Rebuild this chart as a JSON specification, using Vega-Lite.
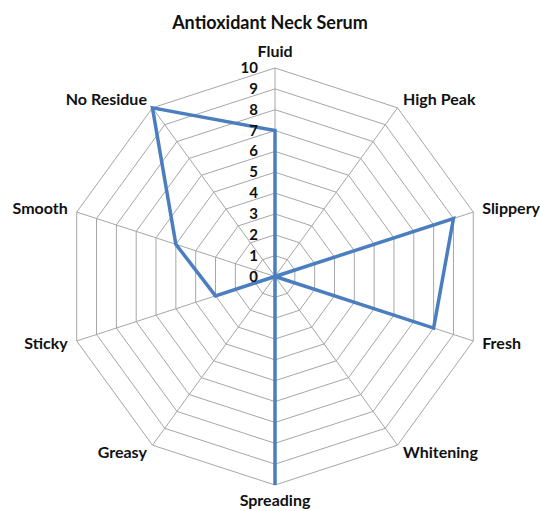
{
  "$schema": "https://vega.github.io/schema/vega-lite/v6.json",
  "width": 540,
  "height": 471,
  "autosize": "none",
  "padding": {"left": 0, "top": 40, "right": 0, "bottom": 0},
  "background": "white",
  "config": {"view": {"stroke": null}},
  "title": {
    "text": "Antioxidant Neck Serum",
    "font": "Lato",
    "fontSize": 18,
    "fontWeight": "bold",
    "color": "#111111",
    "anchor": "middle",
    "offset": 7
  },
  "datasets": {
    "attrs": [
      {"attr": "Fluid", "idx": 0, "value": 7},
      {"attr": "High Peak", "idx": 1, "value": 0},
      {"attr": "Slippery", "idx": 2, "value": 9},
      {"attr": "Fresh", "idx": 3, "value": 8},
      {"attr": "Whitening", "idx": 4, "value": 0},
      {"attr": "Spreading", "idx": 5, "value": 10},
      {"attr": "Greasy", "idx": 6, "value": 0},
      {"attr": "Sticky", "idx": 7, "value": 3},
      {"attr": "Smooth", "idx": 8, "value": 5},
      {"attr": "No Residue", "idx": 9, "value": 10}
    ],
    "ticks": [
      {"level": 0}, {"level": 1}, {"level": 2}, {"level": 3}, {"level": 4}, {"level": 5},
      {"level": 6}, {"level": 7}, {"level": 8}, {"level": 9}, {"level": 10}
    ]
  },
  "layer": [
    {
      "data": {"name": "attrs"},
      "transform": [
        {"calculate": "[1,2,3,4,5,6,7,8,9,10]", "as": "levels"},
        {"flatten": ["levels"], "as": ["level"]},
        {"calculate": "datum.idx * PI / 5", "as": "ang"},
        {"calculate": "datum.level * sin(datum.ang)", "as": "gx"},
        {"calculate": "datum.level * cos(datum.ang)", "as": "gy"}
      ],
      "mark": {"type": "line", "interpolate": "linear-closed", "stroke": "#a6a6a6", "strokeWidth": 1},
      "encoding": {
        "x": {"field": "gx", "type": "quantitative", "scale": {"domain": [-13.19, 12.71], "nice": false, "zero": false}, "axis": null},
        "y": {"field": "gy", "type": "quantitative", "scale": {"domain": [-11.247, 11.343], "nice": false, "zero": false}, "axis": null},
        "detail": {"field": "level", "type": "nominal"},
        "order": {"field": "idx", "type": "quantitative"}
      }
    },
    {
      "data": {"name": "attrs"},
      "transform": [
        {"calculate": "datum.idx * PI / 5", "as": "ang"},
        {"calculate": "0", "as": "ox"},
        {"calculate": "10 * sin(datum.ang)", "as": "sx"},
        {"calculate": "10 * cos(datum.ang)", "as": "sy"}
      ],
      "mark": {"type": "rule", "stroke": "#a6a6a6", "strokeWidth": 1},
      "encoding": {
        "x": {"field": "ox", "type": "quantitative"},
        "y": {"field": "ox", "type": "quantitative"},
        "x2": {"field": "sx"},
        "y2": {"field": "sy"}
      }
    },
    {
      "data": {"name": "attrs"},
      "transform": [
        {"calculate": "datum.idx * PI / 5", "as": "ang"},
        {"calculate": "datum.value * sin(datum.ang)", "as": "px"},
        {"calculate": "datum.value * cos(datum.ang)", "as": "py"}
      ],
      "mark": {"type": "line", "interpolate": "linear-closed", "stroke": "#4a7ebf", "strokeWidth": 3.5, "strokeJoin": "miter"},
      "encoding": {
        "x": {"field": "px", "type": "quantitative"},
        "y": {"field": "py", "type": "quantitative"},
        "order": {"field": "idx", "type": "quantitative"}
      }
    },
    {
      "data": {"name": "ticks"},
      "transform": [{"calculate": "0", "as": "ox"}],
      "mark": {"type": "text", "align": "right", "baseline": "middle", "dx": -17, "font": "Lato", "fontSize": 15, "fontWeight": "bold", "color": "#111111"},
      "encoding": {
        "x": {"field": "ox", "type": "quantitative"},
        "y": {"field": "level", "type": "quantitative"},
        "text": {"field": "level", "type": "quantitative"}
      }
    },
    {
      "data": {"name": "attrs"},
      "transform": [
        {"calculate": "datum.idx * PI / 5", "as": "ang"},
        {"filter": "sin(datum.ang) > 0.1"},
        {"calculate": "10.45 * sin(datum.ang)", "as": "lx"},
        {"calculate": "10.45 * cos(datum.ang)", "as": "ly"}
      ],
      "mark": {"type": "text", "align": "left", "baseline": "middle", "font": "Lato", "fontSize": 16, "fontWeight": "bold", "color": "#111111"},
      "encoding": {
        "x": {"field": "lx", "type": "quantitative"},
        "y": {"field": "ly", "type": "quantitative"},
        "text": {"field": "attr", "type": "nominal"}
      }
    },
    {
      "data": {"name": "attrs"},
      "transform": [
        {"calculate": "datum.idx * PI / 5", "as": "ang"},
        {"filter": "sin(datum.ang) < -0.1"},
        {"calculate": "10.45 * sin(datum.ang)", "as": "lx"},
        {"calculate": "10.45 * cos(datum.ang)", "as": "ly"}
      ],
      "mark": {"type": "text", "align": "right", "baseline": "middle", "font": "Lato", "fontSize": 16, "fontWeight": "bold", "color": "#111111"},
      "encoding": {
        "x": {"field": "lx", "type": "quantitative"},
        "y": {"field": "ly", "type": "quantitative"},
        "text": {"field": "attr", "type": "nominal"}
      }
    },
    {
      "data": {"name": "attrs"},
      "transform": [
        {"calculate": "datum.idx * PI / 5", "as": "ang"},
        {"filter": "abs(sin(datum.ang)) <= 0.1"},
        {"calculate": "10.75 * sin(datum.ang)", "as": "lx"},
        {"calculate": "10.75 * cos(datum.ang)", "as": "ly"}
      ],
      "mark": {"type": "text", "align": "center", "baseline": "middle", "font": "Lato", "fontSize": 16, "fontWeight": "bold", "color": "#111111"},
      "encoding": {
        "x": {"field": "lx", "type": "quantitative"},
        "y": {"field": "ly", "type": "quantitative"},
        "text": {"field": "attr", "type": "nominal"}
      }
    }
  ]
}
